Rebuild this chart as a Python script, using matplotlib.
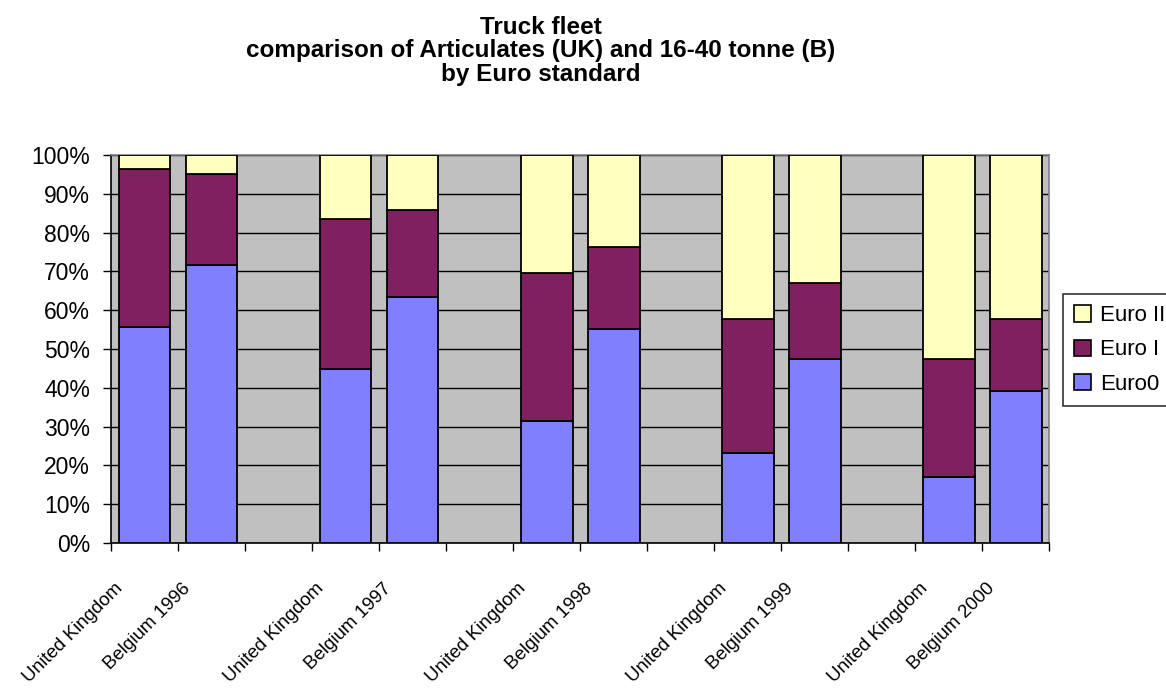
import numpy as np
import matplotlib
matplotlib.use("Agg")
import matplotlib.pyplot as plt
from matplotlib.patches import Patch
from matplotlib.ticker import FuncFormatter
import matplotlib.transforms as mtransforms

plt.rcParams['font.family'] = ['Liberation Sans', 'DejaVu Sans']

categories = ["United Kingdom", "Belgium 1996", "",
              "United Kingdom", "Belgium 1997", "",
              "United Kingdom", "Belgium 1998", "",
              "United Kingdom", "Belgium 1999", "",
              "United Kingdom", "Belgium 2000"]
euro0 = [55.7, 71.6, None, 44.9, 63.4, None, 31.4, 55.2, None, 23.3, 47.5, None, 17.1, 39.3]
euro1 = [40.7, 23.4, None, 38.7, 22.3, None, 38.3, 21.2, None, 34.5, 19.6, None, 30.4, 18.4]
euro2 = [3.6, 5.0, None, 16.4, 14.3, None, 30.3, 23.6, None, 42.2, 32.9, None, 52.5, 42.3]
series_names = ["Euro0", "Euro I", "Euro II"]
colors = ["#8080FF", "#802060", "#FFFFC0"]
yticks = [0, 10, 20, 30, 40, 50, 60, 70, 80, 90, 100]

W, H = 1166, 690
fig = plt.figure(figsize=(W / 100, H / 100), dpi=100)
ax = fig.add_axes([111 / W, 1 - 543 / H, (1049.5 - 111) / W, (543 - 155) / H])
ax.set_facecolor("#C0C0C0")

x = np.arange(len(categories))
idx = [i for i, v in enumerate(euro0) if v is not None]
xs = x[idx]
s0 = np.array([euro0[i] for i in idx])
s1 = np.array([euro1[i] for i in idx])
s2 = np.array([euro2[i] for i in idx])
bw = 0.77
ax.bar(xs, s0, width=bw, color=colors[0], edgecolor="black", linewidth=1.3, zorder=3)
ax.bar(xs, s1, width=bw, bottom=s0, color=colors[1], edgecolor="black", linewidth=1.3, zorder=3)
ax.bar(xs, s2, width=bw, bottom=s0 + s1, color=colors[2], edgecolor="black", linewidth=1.3, zorder=3)

ax.set_xlim(-0.5, len(categories) - 0.5)
ax.set_ylim(0, 100)

# horizontal gridlines
ax.set_yticks(yticks)
ax.yaxis.set_major_formatter(FuncFormatter(lambda v, p: f"{int(v)}%"))
ax.grid(axis="y", color="black", linewidth=1.0, zorder=1)
ax.set_axisbelow(True)
ax.tick_params(axis="y", direction="out", length=6, width=1, labelsize=16.5, pad=9)

# x ticks: major at boundaries, labels at centres
ax.set_xticks(np.arange(-0.5, len(categories), 1.0))
ax.set_xticklabels([])
ax.tick_params(axis="x", which="major", direction="out", length=6, width=1)
ax.set_xticks(x, minor=True)
ax.set_xticklabels(categories, minor=True, rotation=45, ha="right", va="center",
                   rotation_mode="anchor", fontsize=13.5)
ax.tick_params(axis="x", which="minor", length=0, pad=31)
off = mtransforms.ScaledTranslation(-24 / 100, 0, fig.dpi_scale_trans)
for lab in ax.get_xticklabels(minor=True):
    lab.set_transform(lab.get_transform() + off)

for s in ["left", "bottom"]:
    ax.spines[s].set_color("black")
    ax.spines[s].set_linewidth(1.2)
for s in ["top", "right"]:
    ax.spines[s].set_color("#808080")
    ax.spines[s].set_linewidth(1.2)

fig.text(541 / W, 1 - 16 / H,
         "Truck fleet\ncomparison of Articulates (UK) and 16-40 tonne (B)\nby Euro standard",
         ha="center", va="top", fontsize=17.5, fontweight="bold", linespacing=1.02)

handles = [Patch(facecolor=colors[i], edgecolor="black", linewidth=1.2) for i in [2, 1, 0]]
labels = [series_names[i] for i in [2, 1, 0]]
leg = fig.legend(handles, labels, loc="upper left", bbox_to_anchor=(1063 / W, 1 - 294 / H),
                 frameon=True, fancybox=False, fontsize=16, handlelength=0.75, handleheight=0.75,
                 handletextpad=0.4, labelspacing=0.6, borderpad=0.5, borderaxespad=0)
leg.get_frame().set_edgecolor("black")
leg.get_frame().set_linewidth(1.2)

fig.savefig("out.png", dpi=100)
